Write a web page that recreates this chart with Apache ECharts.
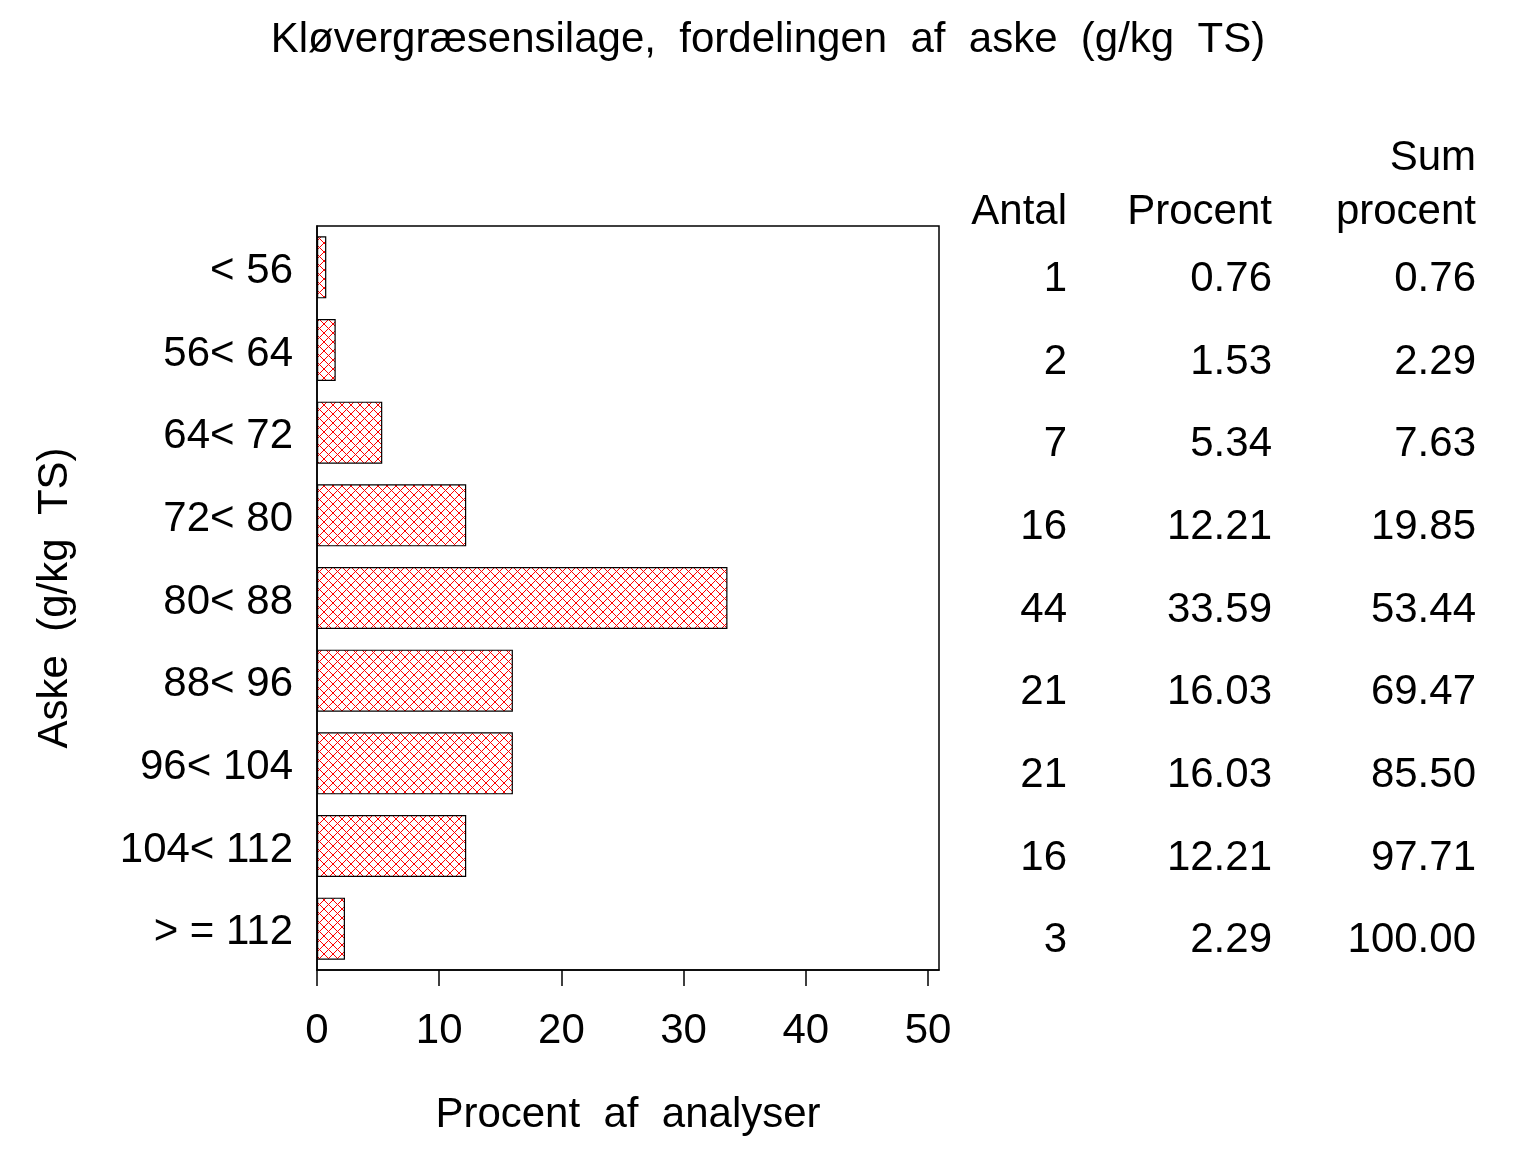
<!DOCTYPE html>
<html lang="da">
<head>
    <meta charset="UTF-8">
    <title>Kløvergræsensilage, aske</title>
    <script type="text/javascript" src="https://cdn.jsdelivr.net/npm/echarts@6/dist/echarts.min.js"></script>
    <style>
        html, body { margin: 0; padding: 0; background: #fff; }
        #chart { width: 1536px; height: 1152px; }
    </style>
</head>
<body>
<div id="chart"></div>
<script type="text/javascript">
    // klasser for aske (g/kg TS)
    var classes = ['< 56', '56< 64', '64< 72', '72< 80', '80< 88', '88< 96', '96< 104', '104< 112', '> = 112'];
    var antal = [1, 2, 7, 16, 44, 21, 21, 16, 3];
    var procent = [0.76, 1.53, 5.34, 12.21, 33.59, 16.03, 16.03, 12.21, 2.29];
    var sumProcent = [0.76, 2.29, 7.63, 19.85, 53.44, 69.47, 85.50, 97.71, 100.00];
    var xTicks = [0, 10, 20, 30, 40, 50];

    var font = '"Liberation Sans", Arial, sans-serif';
    var fs = 42;

    // rød krydsskravering
    function hatch() {
        var c = document.createElement('canvas');
        c.width = 9; c.height = 9;
        var g = c.getContext('2d');
        g.fillStyle = '#fff';
        g.fillRect(0, 0, 9, 9);
        g.strokeStyle = '#ff0000';
        g.lineWidth = 1;
        g.beginPath();
        g.moveTo(0, 0); g.lineTo(9, 9);
        g.moveTo(9, 0); g.lineTo(0, 9);
        g.stroke();
        return c;
    }

    function tableAxis(data, offset, decimals) {
        return {
            type: 'category',
            position: 'right',
            inverse: true,
            offset: offset,
            data: data.map(function (v) { return decimals ? v.toFixed(decimals) : String(v); }),
            axisLine: { show: false },
            axisTick: { show: false },
            splitLine: { show: false },
            axisLabel: {
                align: 'right',
                margin: 0,
                formatter: function (v) { return '{v|' + v + '}'; },
                rich: {
                    v: { fontFamily: font, fontSize: fs, color: '#000', padding: [24, 0, 0, 0] }
                }
            }
        };
    }

    var chart = echarts.init(document.getElementById('chart'));
    var option = {
        backgroundColor: '#fff',
        animation: false,
        title: {
            text: 'Kløvergræsensilage,  fordelingen  af  aske  (g/kg  TS)',
            left: 'center',
            top: 14,
            textStyle: { fontFamily: font, fontSize: fs, fontWeight: 'normal', color: '#000' }
        },
        grid: { left: 317, top: 226, width: 622, height: 744 },
        xAxis: {
            type: 'value',
            min: 0,
            max: 50.9,
            interval: 10,
            name: 'Procent  af  analyser',
            nameLocation: 'middle',
            nameGap: 124,
            nameTextStyle: { fontFamily: font, fontSize: fs, color: '#000', verticalAlign: 'top' },
            axisLine: { show: true, lineStyle: { color: '#000', width: 1.5 } },
            axisTick: { show: true, length: 16, lineStyle: { color: '#000', width: 1.5 } },
            splitLine: { show: false },
            axisLabel: {
                margin: 40,
                fontFamily: font,
                fontSize: fs,
                color: '#000',
                showMaxLabel: false,
                formatter: function (v) { return xTicks.indexOf(v) >= 0 ? String(v) : ''; }
            }
        },
        yAxis: [{
            type: 'category',
            inverse: true,
            data: classes,
            name: 'Aske  (g/kg  TS)',
            nameLocation: 'middle',
            nameRotate: 90,
            nameGap: 262,
            nameTextStyle: { fontFamily: font, fontSize: fs, color: '#000', verticalAlign: 'middle' },
            axisLine: { show: true, lineStyle: { color: '#000', width: 1.5 } },
            axisTick: { show: false },
            splitLine: { show: false },
            axisLabel: {
                margin: 24,
                formatter: function (v) { return '{v|' + v + '}'; },
                rich: {
                    v: { fontFamily: font, fontSize: fs, color: '#000', padding: [8, 0, 0, 0] }
                }
            }
        },
            tableAxis(antal, 128, 0),
            tableAxis(procent, 333, 2),
            tableAxis(sumProcent, 537, 2)
        ],
        graphic: [
            { type: 'rect', shape: { x: 317, y: 226, width: 622, height: 744 }, style: { fill: 'none', stroke: '#000', lineWidth: 1.5 }, silent: true },
            { type: 'text', x: 1067, y: 212, style: { text: 'Antal', font: fs + 'px ' + font, fill: '#000', align: 'right', verticalAlign: 'middle' } },
            { type: 'text', x: 1272, y: 212, style: { text: 'Procent', font: fs + 'px ' + font, fill: '#000', align: 'right', verticalAlign: 'middle' } },
            { type: 'text', x: 1476, y: 158, style: { text: 'Sum', font: fs + 'px ' + font, fill: '#000', align: 'right', verticalAlign: 'middle' } },
            { type: 'text', x: 1476, y: 212, style: { text: 'procent', font: fs + 'px ' + font, fill: '#000', align: 'right', verticalAlign: 'middle' } }
        ],
        series: [{
            type: 'bar',
            data: procent,
            barCategoryGap: '25%',
            itemStyle: {
                color: { image: hatch(), repeat: 'repeat' },
                borderColor: '#000',
                borderWidth: 1.2
            }
        }]
    };
    chart.setOption(option);
</script>
</body>
</html>
